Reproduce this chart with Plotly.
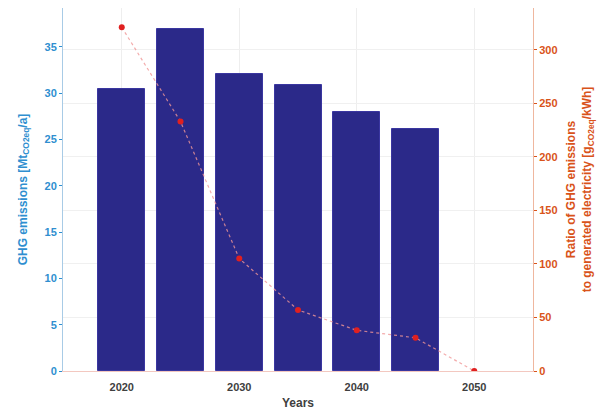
import plotly.graph_objects as go

years = [2020, 2025, 2030, 2035, 2040, 2045]
ghg_emissions = [30.4, 36.9, 32.1, 30.9, 28.0, 26.1]
ratio_years = [2020, 2025, 2030, 2035, 2040, 2045, 2050]
ratio_values = [321, 233, 105, 57, 38, 31, 0]
x_ticks = [2020, 2030, 2040, 2050]

blue = "#2f8fd0"
orange = "#d9531a"
fam = "Liberation Sans, Arial"

fig = go.Figure()
fig.add_trace(go.Bar(
    x=years, y=ghg_emissions, width=4,
    marker=dict(color="#2b2989", line=dict(color="#3a36a0", width=1)),
    yaxis="y", showlegend=False,
))
fig.add_trace(go.Scatter(
    x=ratio_years, y=ratio_values, mode="lines+markers",
    line=dict(color="rgba(240,150,150,0.8)", width=1.2, dash="dot"),
    marker=dict(color="#e02020", size=6),
    yaxis="y2", showlegend=False,
))

fig.update_layout(
    width=615, height=419,
    margin=dict(l=55, r=90, t=0, b=56, autoexpand=False),
    paper_bgcolor="white", plot_bgcolor="white",
    bargap=0,
    xaxis=dict(
        range=[2015, 2055], tickvals=x_ticks, ticks="",
        ticklabelstandoff=6,
        showgrid=True, gridcolor="#eeeeee",
        tickfont=dict(family=fam, size=11, color="#404040", weight="bold"),
        title=dict(text="<b>Years</b>", font=dict(family=fam, size=12, color="#404040"), standoff=6),
        showline=True, linecolor="#f3c8c0", linewidth=1, mirror=True, zeroline=False,
    ),
    yaxis=dict(
        range=[0, 39.2], tickvals=[0, 5, 10, 15, 20, 25, 30, 35],
        ticks="outside", ticklen=3, tickcolor=blue,
        tickfont=dict(family=fam, size=11, color=blue, weight="bold"),
        showgrid=False,
        showline=True, linecolor="#a8cbe6", linewidth=1, zeroline=False,
        title=dict(text="<b>GHG emissions [Mt<sub>CO2eq</sub>/a]</b>",
                   font=dict(family=fam, size=12, color=blue), standoff=14),
    ),
    yaxis2=dict(
        range=[0, 339], overlaying="y", side="right",
        tickvals=[0, 50, 100, 150, 200, 250, 300],
        ticks="outside", ticklen=3, tickcolor=orange,
        tickfont=dict(family=fam, size=11, color=orange, weight="bold"),
        showgrid=True, gridcolor="#f0f0f0", zeroline=False,
        showline=True, linecolor="#efb79f", linewidth=1,
        title=dict(text="<b>Ratio of GHG emissions<br>to generated electricity [g<sub>CO2eq</sub>/kWh]</b>",
                   font=dict(family=fam, size=12, color=orange), standoff=10),
    ),
)
fig.write_html("out.html")
